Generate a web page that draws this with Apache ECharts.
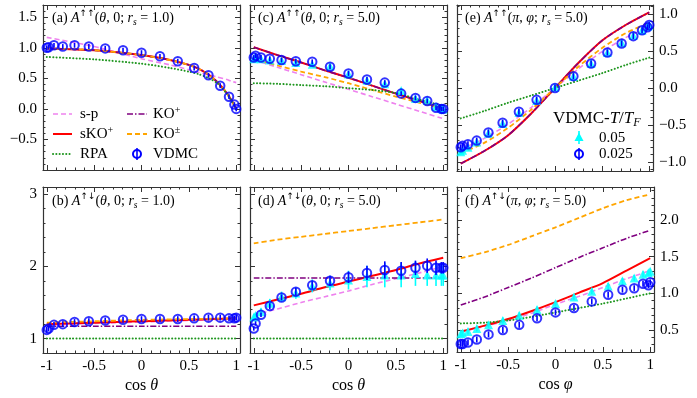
<!DOCTYPE html>
<html>
<head>
<meta charset="utf-8">
<title>vertex</title>
<script src="https://cdn.jsdelivr.net/npm/echarts@6/dist/echarts.min.js"></script>
<style>html,body{margin:0;padding:0;background:#fff;}</style>
</head>
<body>
<div id="main" style="width:697px;height:398px;"></div>
<script>
var F = 'Liberation Serif';

// x of the VDMC points (cos of angle)
var cosPts = [-1, -0.981, -0.924, -0.831, -0.707, -0.556, -0.383, -0.195, 0, 0.195, 0.383, 0.556, 0.707, 0.831, 0.924, 0.981, 1];
// x of the theory curves
var xLine = [-1, -0.75, -0.5, -0.25, 0, 0.25, 0.5, 0.75, 1];
var xLineA = [-1, -0.5, 0, 0.3, 0.5, 0.6, 0.7, 0.8, 0.9, 0.95, 1];

// tick labels
var xTicks = [-1, -0.5, 0, 0.5, 1];
var yTicksTop = [-0.5, 0, 0.5, 1, 1.5];
var yTicksBot = [1, 2, 3];
var yTicksE = [-1, -0.5, 0, 0.5, 1];
var yTicksF = [0.5, 1, 1.5, 2];

// (a) A^uu(theta,0; rs=1)
var spA   = [1.17, 1.02, 0.82, 0.72, 0.64, 0.60, 0.56, 0.52, 0.48, 0.45, 0.43];
var skoA  = [0.99, 0.96, 0.88, 0.80, 0.72, 0.66, 0.57, 0.44, 0.26, 0.14, 0.0];
var koA   = [0.99, 0.96, 0.88, 0.80, 0.72, 0.66, 0.57, 0.44, 0.26, 0.14, 0.0];
var kopmA = [0.99, 0.96, 0.88, 0.80, 0.72, 0.66, 0.57, 0.44, 0.26, 0.14, 0.0];
var rpaA  = [0.85, 0.81, 0.74, 0.67, 0.61, 0.57, 0.51, 0.42, 0.25, 0.13, 0.0];
var vdmcA = [1.00, 1.01, 1.04, 1.02, 1.04, 1.02, 0.99, 0.96, 0.92, 0.86, 0.78, 0.67, 0.55, 0.38, 0.20, 0.07, 0.00];

// (b) A^ud(theta,0; rs=1)
var spB   = [1.19, 1.20, 1.21, 1.22, 1.23, 1.24, 1.25, 1.26, 1.27];
var skoB  = [1.20, 1.21, 1.22, 1.23, 1.24, 1.25, 1.26, 1.27, 1.28];
var koB   = [1.17, 1.17, 1.17, 1.17, 1.17, 1.17, 1.17, 1.17, 1.17];
var kopmB = [1.22, 1.23, 1.24, 1.25, 1.26, 1.265, 1.27, 1.275, 1.28];
var rpaB  = [1.0, 1.0, 1.0, 1.0, 1.0, 1.0, 1.0, 1.0, 1.0];
var vdmcB = [1.12, 1.14, 1.19, 1.20, 1.23, 1.24, 1.25, 1.26, 1.27, 1.27, 1.27, 1.28, 1.29, 1.29, 1.28, 1.28, 1.29];

// (c) A^uu(theta,0; rs=5)
var spC   = [0.80, 0.68, 0.56, 0.44, 0.32, 0.20, 0.08, -0.04, -0.16];
var skoC  = [1.01, 0.88, 0.76, 0.63, 0.51, 0.38, 0.25, 0.13, 0.0];
var koC   = [1.01, 0.88, 0.76, 0.63, 0.51, 0.38, 0.25, 0.13, 0.0];
var kopmC = [0.81, 0.71, 0.61, 0.52, 0.42, 0.31, 0.20, 0.10, 0.0];
var rpaC  = [0.42, 0.41, 0.39, 0.37, 0.34, 0.31, 0.26, 0.15, 0.05];
var vdmcC = [0.84, 0.87, 0.84, 0.82, 0.80, 0.78, 0.77, 0.69, 0.58, 0.48, 0.43, 0.25, 0.18, 0.13, 0.02, 0.00, 0.00];
var hotC  = [0.82, 0.85, 0.82, 0.80, 0.79, 0.76, 0.73, 0.70, 0.57, 0.47, 0.41, 0.30, 0.17, 0.14, 0.04, 0.01, 0.00];

// (d) A^ud(theta,0; rs=5)
var spD   = [1.33, 1.41, 1.50, 1.58, 1.66, 1.75, 1.83, 1.91, 2.00];
var skoD  = [1.46, 1.54, 1.62, 1.71, 1.79, 1.87, 1.95, 2.04, 2.12];
var koD   = [1.84, 1.84, 1.84, 1.84, 1.84, 1.84, 1.84, 1.84, 1.84];
var kopmD = [2.32, 2.37, 2.41, 2.45, 2.49, 2.53, 2.57, 2.61, 2.65];
var rpaD  = [1.0, 1.0, 1.0, 1.0, 1.0, 1.0, 1.0, 1.0, 1.0];
var vdmcD = [1.14, 1.21, 1.33, 1.45, 1.57, 1.65, 1.74, 1.80, 1.85, 1.91, 1.95, 1.94, 1.98, 2.01, 1.98, 1.98, 1.98];
var errD  = [0.03, 0.03, 0.03, 0.04, 0.04, 0.05, 0.05, 0.07, 0.08, 0.10, 0.12, 0.12, 0.10, 0.10, 0.10, 0.08, 0.08];
var hotD  = [1.30, 1.32, 1.37, 1.49, 1.58, 1.63, 1.73, 1.77, 1.81, 1.86, 1.88, 1.88, 1.90, 1.88, 1.88, 1.88, 1.88];
var hotErrD = [0.04, 0.04, 0.05, 0.06, 0.07, 0.08, 0.09, 0.10, 0.13, 0.15, 0.17, 0.17, 0.17, 0.15, 0.15, 0.15, 0.15];

// (e) A^uu(pi,phi; rs=5)
var spE   = [-0.83, -0.68, -0.49, -0.26, 0, 0.26, 0.49, 0.68, 0.83];
var skoE  = [-1.02, -0.85, -0.64, -0.34, 0, 0.34, 0.64, 0.85, 1.02];
var koE   = [-1.02, -0.85, -0.64, -0.34, 0, 0.34, 0.64, 0.85, 1.02];
var kopmE = [-0.88, -0.74, -0.54, -0.29, 0, 0.29, 0.54, 0.74, 0.88];
var rpaE  = [-0.41, -0.31, -0.20, -0.10, 0, 0.10, 0.20, 0.31, 0.41];
var vdmcE = [-0.80, -0.78, -0.76, -0.71, -0.60, -0.47, -0.32, -0.16, 0.00, 0.16, 0.33, 0.48, 0.60, 0.70, 0.78, 0.82, 0.85];
var hotE  = [-0.86, -0.84, -0.80, -0.73, -0.61, -0.48, -0.33, -0.17, 0.01, 0.16, 0.33, 0.48, 0.61, 0.71, 0.78, 0.83, 0.85];

// (f) A^ud(pi,phi; rs=5)
var spF   = [0.47, 0.55, 0.63, 0.73, 0.85, 0.96, 1.08, 1.20, 1.31];
var skoF  = [0.48, 0.56, 0.65, 0.76, 0.88, 1.01, 1.14, 1.31, 1.48];
var koF   = [0.84, 0.95, 1.08, 1.21, 1.35, 1.49, 1.62, 1.75, 1.86];
var kopmF = [1.48, 1.56, 1.66, 1.78, 1.90, 2.03, 2.16, 2.27, 2.35];
var rpaF  = [0.59, 0.60, 0.63, 0.68, 0.74, 0.80, 0.86, 0.93, 1.00];
var vdmcF = [0.31, 0.31, 0.33, 0.37, 0.44, 0.50, 0.57, 0.66, 0.74, 0.80, 0.89, 0.98, 1.05, 1.07, 1.13, 1.11, 1.15];
var hotF  = [0.45, 0.46, 0.48, 0.52, 0.57, 0.63, 0.70, 0.78, 0.86, 0.95, 1.03, 1.10, 1.17, 1.21, 1.26, 1.28, 1.30];

var errSmall = 0.04;

var C = { sp: '#ee82ee', sko: '#ff0000', ko: '#800080', kopm: '#ffa500', rpa: '#1f961f', vdmc: '#0000ff', hot: '#00ffff' };
var styles = {
    sp:   { color: C.sp, width: 1.6, type: [5, 3] },
    sko:  { color: C.sko, width: 2 },
    ko:   { color: C.ko, width: 1.6, type: [6, 2, 1.5, 2] },
    kopm: { color: C.kopm, width: 1.8, type: [5, 3] },
    rpa:  { color: C.rpa, width: 2, type: [0.1, 3.2], cap: 'round' }
};

var panels = [
    { grid: { left: 43, top: 5, width: 197, height: 165 }, yr: [-1, 1.7], ysplit: 5, xs: xLineA,
      sp: spA, sko: skoA, ko: koA, kopm: kopmA, rpa: rpaA, vdmc: vdmcA, err: errSmall, yLab: 'left', yTicks: yTicksTop, yDec: 1 },
    { grid: { left: 43, top: 187, width: 197, height: 166 }, yr: [0.8, 3.1], ysplit: 2, xs: xLine,
      sp: spB, sko: skoB, ko: koB, kopm: kopmB, rpa: rpaB, vdmc: vdmcB, err: errSmall, yLab: 'left', yTicks: yTicksBot, yDec: 0, xName: 'θ' },
    { grid: { left: 250, top: 5, width: 197, height: 165 }, yr: [-1, 1.7], ysplit: 5, xs: xLine,
      sp: spC, sko: skoC, ko: koC, kopm: kopmC, rpa: rpaC, vdmc: vdmcC, err: errSmall, hot: hotC, hotErr: errSmall },
    { grid: { left: 250, top: 187, width: 197, height: 166 }, yr: [0.8, 3.1], ysplit: 2, xs: xLine,
      sp: spD, sko: skoD, ko: koD, kopm: kopmD, rpa: rpaD, vdmc: vdmcD, err: errD, hot: hotD, hotErr: hotErrD, xName: 'θ' },
    { grid: { left: 457, top: 5, width: 196, height: 166 }, yr: [-1.12, 1.12], ysplit: 5, xs: xLine,
      sp: spE, sko: skoE, ko: koE, kopm: kopmE, rpa: rpaE, vdmc: vdmcE, err: errSmall, hot: hotE, hotErr: errSmall, yLab: 'right', yTicks: yTicksE, yDec: 1 },
    { grid: { left: 457, top: 187, width: 197, height: 165 }, yr: [0.2, 2.45], ysplit: 5, xs: xLine,
      sp: spF, sko: skoF, ko: koF, kopm: kopmF, rpa: rpaF, vdmc: vdmcF, err: errSmall, hot: hotF, hotErr: errSmall, yLab: 'right', yTicks: yTicksF, yDec: 1, xName: 'φ' }
];

function inList(list, v) {
    for (var i = 0; i < list.length; i++) if (Math.abs(list[i] - v) < 1e-6) return true;
    return false;
}

var axisLine = { show: true, onZero: false, lineStyle: { color: '#333', width: 1.2 } };
var axisTick = { show: true, inside: true, length: 5, lineStyle: { color: '#333', width: 1 } };
var minorTick = { show: true, splitNumber: 5, length: 2.5, lineStyle: { color: '#333', width: 1 } };
var labelFont = { fontFamily: F, fontSize: 15, color: '#000' };

function xAxisFor(g, pos, p) {
    var showLab = pos === 'bottom' && !!p.xName;
    return {
        type: 'value', gridIndex: g, position: pos, min: -1.04, max: 1.04, splitNumber: 5,
        axisLine: axisLine, axisTick: axisTick, minorTick: minorTick, splitLine: { show: false },
        axisLabel: Object.assign({ show: showLab, margin: 6, formatter: function (v) {
            return inList(xTicks, v) ? String(v) : '';
        } }, labelFont),
        name: showLab ? '{n|cos }{i|' + p.xName + '}' : '',
        nameLocation: 'middle', nameGap: 25,
        nameTextStyle: { rich: { n: { fontFamily: F, fontSize: 16, color: '#000' }, i: { fontFamily: F, fontSize: 16, fontStyle: 'italic', color: '#000' } } }
    };
}

function yAxisFor(g, pos, p) {
    var showLab = p.yLab === pos;
    return {
        type: 'value', gridIndex: g, position: pos, min: p.yr[0], max: p.yr[1], splitNumber: p.ysplit,
        axisLine: axisLine, axisTick: axisTick, minorTick: minorTick, splitLine: { show: false },
        axisLabel: Object.assign({ show: showLab, margin: 6, formatter: function (v) {
            if (!p.yTicks || !inList(p.yTicks, v)) return '';
            return v.toFixed(p.yDec).replace('-', '\u2212');
        } }, labelFont)
    };
}

function pairs(xs, ys) {
    return xs.map(function (x, i) { return [x, ys[i]]; });
}
function triples(xs, ys, e) {
    return xs.map(function (x, i) { return [x, ys[i], Array.isArray(e) ? e[i] : e]; });
}

function renderErr(params, api) {
    var x = api.value(0), y = api.value(1), e = api.value(2);
    var lo = api.coord([x, y - e]);
    var hi = api.coord([x, y + e]);
    return {
        type: 'line',
        shape: { x1: lo[0], y1: lo[1], x2: hi[0], y2: hi[1] },
        style: { stroke: api.visual('color'), lineWidth: 1.6 }
    };
}

var grids = [], xAxes = [], yAxes = [], series = [];
panels.forEach(function (p, g) {
    grids.push(Object.assign({ containLabel: false }, p.grid));
    xAxes.push(xAxisFor(g, 'bottom', p));
    xAxes.push(xAxisFor(g, 'top', p));
    yAxes.push(yAxisFor(g, 'left', p));
    yAxes.push(yAxisFor(g, 'right', p));
    var xi = 2 * g, yi = 2 * g;
    ['sp', 'sko', 'ko', 'kopm', 'rpa'].forEach(function (k) {
        series.push({
            type: 'line', name: k, xAxisIndex: xi, yAxisIndex: yi, data: pairs(p.xs, p[k]),
            symbol: 'none', smooth: 0.25, lineStyle: styles[k], z: 2
        });
    });
    if (p.hot) {
        series.push({ type: 'custom', xAxisIndex: xi, yAxisIndex: yi, renderItem: renderErr,
            itemStyle: { color: C.hot }, encode: { x: 0, y: 1 }, data: triples(cosPts, p.hot, p.hotErr), z: 3 });
        series.push({ type: 'scatter', xAxisIndex: xi, yAxisIndex: yi, data: pairs(cosPts, p.hot),
            symbol: 'triangle', symbolSize: 9, itemStyle: { color: C.hot }, z: 3 });
    }
    series.push({ type: 'custom', xAxisIndex: xi, yAxisIndex: yi, renderItem: renderErr,
        itemStyle: { color: C.vdmc }, encode: { x: 0, y: 1 }, data: triples(cosPts, p.vdmc, p.err), z: 4 });
    series.push({ type: 'scatter', xAxisIndex: xi, yAxisIndex: yi, data: pairs(cosPts, p.vdmc),
        symbol: 'circle', symbolSize: 8.5, itemStyle: { color: 'rgba(0,0,0,0)', borderColor: C.vdmc, borderWidth: 2 }, z: 4 });
});

var rich = {
    n: { fontFamily: F, fontSize: 14, color: '#111', lineHeight: 18 },
    i: { fontFamily: F, fontSize: 14, fontStyle: 'italic', color: '#111', lineHeight: 18 },
    sup: { fontFamily: 'DejaVu Sans', fontSize: 9, color: '#111', verticalAlign: 'top', lineHeight: 11 },
    sub: { fontFamily: F, fontSize: 9.5, fontStyle: 'italic', color: '#111', verticalAlign: 'bottom', lineHeight: 10 }
};
var titleData = [
    { x: 52, y: 18, t: '{n|(a) }{i|A}{sup|↑↑}{n|(}{i|θ}{n|, 0; }{i|r}{sub|s}{n| = 1.0)}' },
    { x: 52, y: 201, t: '{n|(b) }{i|A}{sup|↑↓}{n|(}{i|θ}{n|, 0; }{i|r}{sub|s}{n| = 1.0)}' },
    { x: 258, y: 18, t: '{n|(c) }{i|A}{sup|↑↑}{n|(}{i|θ}{n|, 0; }{i|r}{sub|s}{n| = 5.0)}' },
    { x: 258, y: 201, t: '{n|(d) }{i|A}{sup|↑↓}{n|(}{i|θ}{n|, 0; }{i|r}{sub|s}{n| = 5.0)}' },
    { x: 465, y: 18, t: '{n|(e) }{i|A}{sup|↑↑}{n|(}{i|π}{n|, }{i|φ}{n|; }{i|r}{sub|s}{n| = 5.0)}' },
    { x: 465, y: 201, t: '{n|(f) }{i|A}{sup|↑↓}{n|(}{i|π}{n|, }{i|φ}{n|; }{i|r}{sub|s}{n| = 5.0)}' }
];

var graphics = titleData.map(function (d) {
    return { type: 'text', x: d.x, y: d.y, z: 100, style: { text: d.t, rich: rich, verticalAlign: 'middle', align: 'left' } };
});

var lrich = {
    n: { fontFamily: F, fontSize: 15, color: '#111', lineHeight: 18 },
    i: { fontFamily: F, fontSize: 15, fontStyle: 'italic', color: '#111', lineHeight: 18 },
    sup: { fontFamily: F, fontSize: 10, color: '#111', verticalAlign: 'top', lineHeight: 10 },
    sub: { fontFamily: F, fontSize: 11, fontStyle: 'italic', color: '#111', verticalAlign: 'bottom', lineHeight: 10 },
    big: { fontFamily: F, fontSize: 17, color: '#111', lineHeight: 20 },
    bigi: { fontFamily: F, fontSize: 17, fontStyle: 'italic', color: '#111', lineHeight: 20 },
    bigsub: { fontFamily: F, fontSize: 12, fontStyle: 'italic', color: '#111', verticalAlign: 'bottom', lineHeight: 12 }
};
function legLine(x1, x2, y, st) {
    return { type: 'line', z: 100, shape: { x1: x1, y1: y, x2: x2, y2: y },
        style: { stroke: st.color, lineWidth: st.width, lineDash: st.type || null, lineCap: st.cap || 'butt' } };
}
function legText(x, y, t) {
    return { type: 'text', x: x, y: y, z: 100, style: { text: t, rich: lrich, verticalAlign: 'middle', align: 'left' } };
}
graphics.push(legLine(53, 72, 114, styles.sp), legText(80, 114, '{n|s-p}'));
graphics.push(legLine(53, 72, 134, styles.sko), legText(80, 134, '{n|sKO}{sup|+}'));
graphics.push(legLine(53, 72, 154, styles.rpa), legText(80, 154, '{n|RPA}'));
graphics.push(legLine(127, 147, 114, styles.ko), legText(153, 114, '{n|KO}{sup|+}'));
graphics.push(legLine(127, 147, 134, styles.kopm), legText(153, 134, '{n|KO}{sup|±}'));
graphics.push({ type: 'line', z: 100, shape: { x1: 137, y1: 148, x2: 137, y2: 160 }, style: { stroke: C.vdmc, lineWidth: 1.6 } });
graphics.push({ type: 'circle', z: 100, shape: { cx: 137, cy: 154, r: 4 }, style: { fill: 'none', stroke: C.vdmc, lineWidth: 2 } });
graphics.push(legText(153, 154, '{n|VDMC}'));

// legend of panel (e)
graphics.push(legText(553, 119, '{big|VDMC-}{bigi|T}{big|/}{bigi|T}{bigsub|F}'));
graphics.push({ type: 'line', z: 100, shape: { x1: 579, y1: 131, x2: 579, y2: 144 }, style: { stroke: C.hot, lineWidth: 1.6 } });
graphics.push({ type: 'polygon', z: 100, shape: { points: [[579, 132.5], [583.5, 141], [574.5, 141]] }, style: { fill: C.hot } });
graphics.push(legText(599, 138, '{n|0.05}'));
graphics.push({ type: 'line', z: 100, shape: { x1: 579, y1: 148, x2: 579, y2: 160 }, style: { stroke: C.vdmc, lineWidth: 1.6 } });
graphics.push({ type: 'circle', z: 100, shape: { cx: 579, cy: 154, r: 4 }, style: { fill: 'none', stroke: C.vdmc, lineWidth: 2 } });
graphics.push(legText(599, 154, '{n|0.025}'));

var chart = echarts.init(document.getElementById('main'));
chart.setOption({
    animation: false,
    backgroundColor: '#fff',
    textStyle: { fontFamily: F },
    grid: grids,
    xAxis: xAxes,
    yAxis: yAxes,
    series: series,
    graphic: graphics
});
</script>
</body>
</html>
